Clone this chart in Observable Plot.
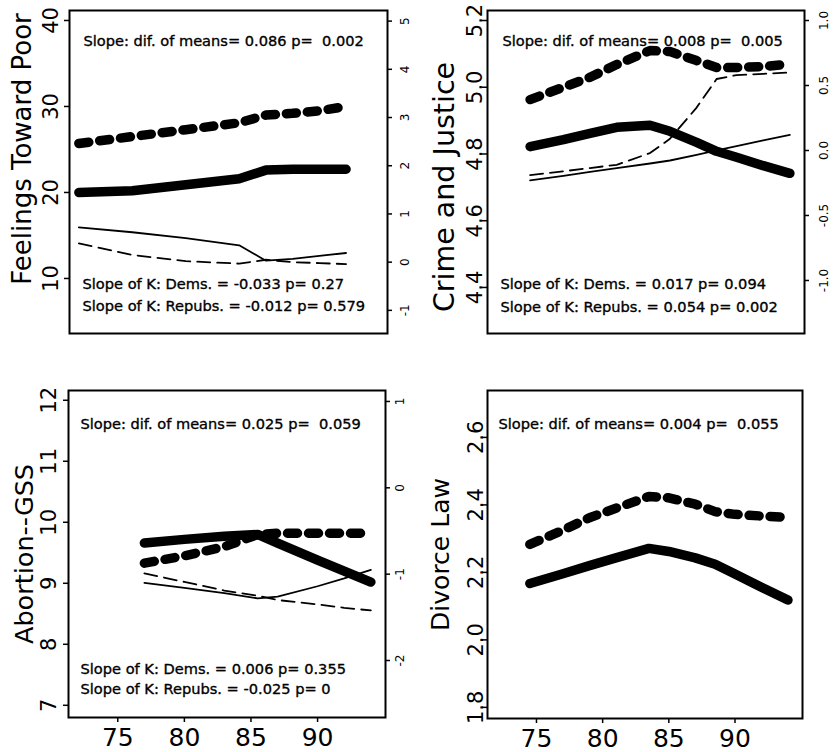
<!DOCTYPE html>
<html><head><meta charset="utf-8">
<script src="https://cdn.jsdelivr.net/npm/d3@7"></script>
<script src="https://cdn.jsdelivr.net/npm/@observablehq/plot@0.6"></script>
<style>
html,body{margin:0;padding:0;background:#fff;}
#wrap{position:relative;width:833px;height:752px;overflow:hidden;background:#fff;}
.panel{position:absolute;width:416px;height:376px;}
.panel svg{position:absolute;left:0;top:0;max-width:none;}
</style></head><body><div id="wrap"></div>
<script>
// ---------- data ----------
// Panel 1: Feelings Toward Poor
const poorYears   = [72, 76, 80, 84, 86, 88, 90, 92];
const poorDemMean = [20.0, 20.2, 20.9, 21.6, 22.6, 22.7, 22.7, 22.7];   // thick solid
const poorRepMean = [25.7, 26.5, 27.3, 28.1, 29.0, 29.2, 29.5, 30.0];   // thick dashed
const poorDemK    = [0.72, 0.62, 0.50, 0.35, 0.03, 0.07, 0.13, 0.19];   // thin solid (right axis)
const poorRepK    = [0.39, 0.15, 0.02, -0.03, 0.05, 0.0, -0.02, -0.04]; // thin dashed (right axis)
const poorLeftTicks  = [10, 20, 30, 40];
const poorRightTicks = [-1, 0, 1, 2, 3, 4, 5];
const poorTitle = "Feelings Toward Poor";
const poorNotes = ["Slope: dif. of means= 0.086 p=  0.002", "Slope of K: Dems. = -0.033 p= 0.27", "Slope of K: Repubs. = -0.012 p= 0.579"];

// Panel 2: Crime and Justice
const crimeYears   = [74.5, 77, 79, 81, 83.5, 85, 87, 88.5, 90, 92, 94];
const crimeDemMean = [4.822, 4.843, 4.862, 4.880, 4.886, 4.868, 4.835, 4.808, 4.790, 4.765, 4.742];
const crimeRepMean = [4.963, 5.000, 5.030, 5.068, 5.110, 5.107, 5.080, 5.059, 5.059, 5.062, 5.070];
const crimeDemK    = [-0.23, -0.195, -0.165, -0.135, -0.10, -0.077, -0.033, 0.0, 0.033, 0.077, 0.12];
const crimeRepK    = [-0.19, -0.16, -0.135, -0.11, -0.02, 0.09, 0.33, 0.55, 0.58, 0.59, 0.60];
const crimeLeftTicks  = [4.4, 4.6, 4.8, 5.0, 5.2];
const crimeRightTicks = [-1.0, -0.5, 0.0, 0.5, 1.0];
const crimeTitle = "Crime and Justice";
const crimeNotes = ["Slope: dif. of means= 0.008 p=  0.005", "Slope of K: Dems. = 0.017 p= 0.094", "Slope of K: Repubs. = 0.054 p= 0.002"];

// Panel 3: Abortion--GSS
const abortYears   = [77, 80, 83, 85.5, 87, 90, 92, 94];
const abortDemMean = [9.66, 9.72, 9.77, 9.80, 9.66, 9.38, 9.20, 9.02];
const abortRepMean = [9.33, 9.45, 9.60, 9.80, 9.82, 9.82, 9.82, 9.82];
const abortDemK    = [-1.10, -1.16, -1.22, -1.28, -1.26, -1.14, -1.05, -0.95];
const abortRepK    = [-0.99, -1.09, -1.19, -1.25, -1.30, -1.35, -1.39, -1.42];
const abortLeftTicks  = [7, 8, 9, 10, 11, 12];
const abortRightTicks = [-2, -1, 0, 1];
const abortTitle = "Abortion--GSS";
const abortNotes = ["Slope: dif. of means= 0.025 p=  0.059", "Slope of K: Dems. = 0.006 p= 0.355", "Slope of K: Repubs. = -0.025 p= 0"];

// Panel 4: Divorce Law
const divYears   = [74.5, 77, 79, 81, 83.5, 85, 87, 88.5, 90, 92, 94];
const divDemMean = [2.167, 2.196, 2.220, 2.243, 2.271, 2.262, 2.243, 2.224, 2.195, 2.156, 2.118];
const divRepMean = [2.283, 2.325, 2.362, 2.390, 2.425, 2.421, 2.402, 2.380, 2.372, 2.367, 2.363];
const divLeftTicks = [1.8, 2.0, 2.2, 2.4, 2.6];
const divTitle = "Divorce Law";
const divNotes = ["Slope: dif. of means= 0.004 p=  0.055"];

const yearTicks = [75, 80, 85, 90];

// ---------- drawing ----------
const FONT = "'DejaVu Sans', 'Liberation Sans', Arial, sans-serif";
const xDomain = [71.3, 95.1];
const pts = (years, vals) => years.map((year, i) => ({year, v: vals[i]}));
const f1 = d => d.toFixed(1);
const f0 = d => String(d);

function makePanel(c) {
  const div = document.createElement("div");
  div.className = "panel";
  div.style.left = c.left + "px";
  div.style.top = c.top + "px";
  const base = {
    width: 416, height: 376,
    marginLeft: c.ml, marginRight: c.mr, marginTop: c.mt, marginBottom: c.mb,
    style: {fontFamily: FONT, background: "transparent", overflow: "visible"}
  };
  const marks = [
    Plot.frame({stroke: "black", strokeWidth: 2}),
    Plot.axisY(c.leftTicks, {anchor: "left", tickSize: 5, tickPadding: c.tpL, tickRotate: -90,
      fontSize: 21, tickFormat: c.fmtL, label: null, strokeWidth: 1.5}),
    Plot.line(pts(c.years, c.demMean), {x: "year", y: "v", stroke: "black", strokeWidth: 9.5,
      strokeLinecap: "round", strokeLinejoin: "round"}),
    Plot.line(pts(c.years, c.repMean), {x: "year", y: "v", stroke: "black", strokeWidth: 9.5,
      strokeLinecap: "round", strokeLinejoin: "round", strokeDasharray: "10,11"}),
    Plot.text([c.title], {frameAnchor: "left", rotate: -90, textAnchor: "middle", lineAnchor: "bottom",
      dx: c.tdx, dy: c.tdy, fontSize: c.tfs, fill: "black"}),
    Plot.text([c.notes[0]], {frameAnchor: "top-left", textAnchor: "start", dx: c.n0dx, dy: c.n0dy,
      fontSize: 14.6, fill: "black", stroke: "black", strokeWidth: 0.35})
  ];
  if (c.notes.length > 1) {
    marks.push(Plot.text([c.notes[1]], {frameAnchor: "bottom-left", textAnchor: "start", dx: c.n1dx, dy: c.n1dy,
      fontSize: 14.6, fill: "black", stroke: "black", strokeWidth: 0.35}));
    marks.push(Plot.text([c.notes[2]], {frameAnchor: "bottom-left", textAnchor: "start", dx: c.n1dx, dy: c.n2dy,
      fontSize: 14.6, fill: "black", stroke: "black", strokeWidth: 0.35}));
  }
  const xOpt = {domain: xDomain};
  if (c.showX) {
    marks.push(Plot.axisX(yearTicks, {anchor: "bottom", tickSize: 5, tickPadding: 6, fontSize: 25,
      tickFormat: f0, label: null, strokeWidth: 1.5}));
  } else {
    xOpt.axis = null;
  }
  const p1 = Plot.plot({...base, x: xOpt, y: {domain: c.leftDomain, label: null}, marks});
  div.appendChild(p1);

  if (c.rightDomain) {
    const p2 = Plot.plot({
      ...base,
      x: {domain: xDomain, axis: null},
      y: {domain: c.rightDomain, label: null},
      marks: [
        Plot.axisY(c.rightTicks, {anchor: "right", tickSize: 4, tickPadding: c.tpR, tickRotate: -90,
          lineAnchor: "top", fontSize: 12, tickFormat: c.fmtR, label: null, strokeWidth: 1.5}),
        Plot.line(pts(c.years, c.demK), {x: "year", y: "v", stroke: "black", strokeWidth: 1.8,
          strokeLinejoin: "round"}),
        Plot.line(pts(c.years, c.repK), {x: "year", y: "v", stroke: "black", strokeWidth: 1.8,
          strokeLinejoin: "round", strokeDasharray: "13,7"})
      ]
    });
    div.appendChild(p2);
  }
  document.getElementById("wrap").appendChild(div);
}

makePanel({left: 0, top: 0, ml: 69, mr: 29, mt: 10, mb: 43,
  leftDomain: [3.6, 41.16], rightDomain: [-1.48, 5.22],
  leftTicks: poorLeftTicks, rightTicks: poorRightTicks, fmtL: f0, fmtR: f0, tpL: 7, tpR: 9,
  years: poorYears, demMean: poorDemMean, repMean: poorRepMean, demK: poorDemK, repK: poorRepK,
  title: poorTitle, tfs: 26, tdx: -39, tdy: -23, notes: poorNotes,
  n0dx: 14, n0dy: 25, n1dx: 13, n1dy: -45, n2dy: -23, showX: false});

makePanel({left: 416, top: 0, ml: 71, mr: 28, mt: 10, mb: 43,
  leftDomain: [4.262, 5.23], rightDomain: [-1.408, 1.077],
  leftTicks: crimeLeftTicks, rightTicks: crimeRightTicks, fmtL: f1, fmtR: f1, tpL: 1, tpR: 11,
  years: crimeYears, demMean: crimeDemMean, repMean: crimeRepMean, demK: crimeDemK, repK: crimeRepK,
  title: crimeTitle, tfs: 28.5, tdx: -34, tdy: 15, notes: crimeNotes,
  n0dx: 15, n0dy: 25, n1dx: 13, n1dy: -45, n2dy: -22, showX: false});

makePanel({left: 0, top: 376, ml: 68, mr: 31, mt: 14, mb: 35,
  leftDomain: [6.80, 12.16], rightDomain: [-2.66, 1.127],
  leftTicks: abortLeftTicks, rightTicks: abortRightTicks, fmtL: f0, fmtR: f0, tpL: 8, tpR: 6,
  years: abortYears, demMean: abortDemMean, repMean: abortRepMean, demK: abortDemK, repK: abortRepK,
  title: abortTitle, tfs: 25.5, tdx: -36, tdy: 0, notes: abortNotes,
  n0dx: 12, n0dy: 28, n1dx: 12, n1dy: -44, n2dy: -24, showX: true});

makePanel({left: 416, top: 376, ml: 71, mr: 30, mt: 14, mb: 34,
  leftDomain: [1.767, 2.739], rightDomain: null,
  leftTicks: divLeftTicks, fmtL: f1, tpL: 0,
  years: divYears, demMean: divDemMean, repMean: divRepMean,
  title: divTitle, tfs: 25, tdx: -39, tdy: 0, notes: divNotes,
  n0dx: 11, n0dy: 28, showX: true});
</script>
</body></html>
